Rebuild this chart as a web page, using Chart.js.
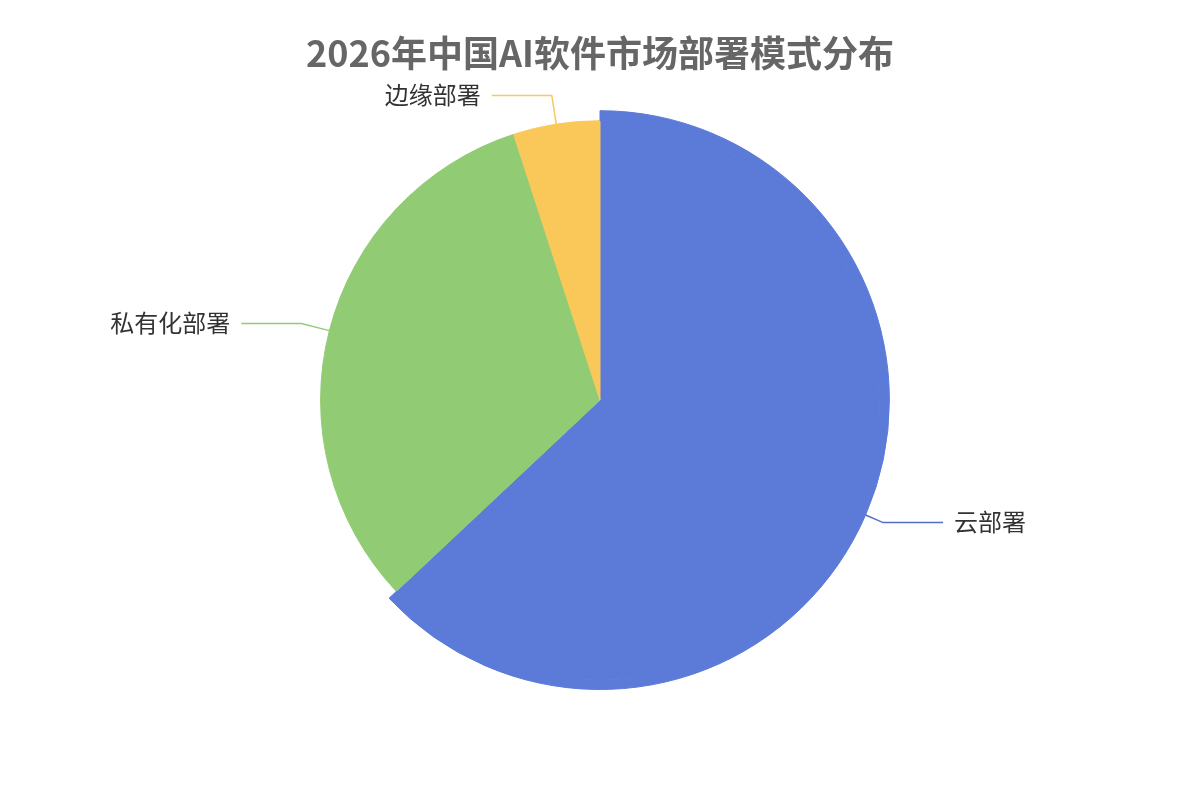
<!DOCTYPE html>
<html>
<head>
<meta charset="utf-8">
<script src="https://cdn.jsdelivr.net/npm/chart.js@4"></script>
<style>
  html, body { margin: 0; padding: 0; background: #fff; }
  #wrap { width: 1200px; height: 800px; }
</style>
</head>
<body>
<div id="wrap"><canvas id="mycanvas" width="1200" height="800"></canvas></div>
<script>
// data
var categories = ['云部署', '私有化部署', '边缘部署'];
var shares = [63, 32, 5];

var fillColors = ['#5c7bd9', '#91cc75', '#fac858'];
var lineColors = ['#5470c6', '#91cc75', '#fac858'];

Chart.defaults.font.family = '"Noto Sans CJK SC", "Noto Sans", sans-serif';

// outside labels with elbow lines
var pieLabels = {
	id: 'pieLabels',
	afterDatasetsDraw: function(chart) {
		var meta = chart.getDatasetMeta(1);
		var ctx = chart.ctx;
		ctx.save();
		for (var i = 0; i < meta.data.length; i++) {
			var arc = meta.data[i];
			var a = (arc.startAngle + arc.endAngle) / 2;
			var r0 = (i === 0) ? arc.outerRadius + 10 : arc.outerRadius;
			var r1 = arc.outerRadius + 29;
			var x0 = arc.x + r0 * Math.cos(a), y0 = arc.y + r0 * Math.sin(a);
			var x1 = arc.x + r1 * Math.cos(a), y1 = arc.y + r1 * Math.sin(a);
			var dir = Math.cos(a) >= 0 ? 1 : -1;
			var x2 = x1 + dir * 60;
			ctx.strokeStyle = lineColors[i];
			ctx.lineWidth = 1.5;
			ctx.beginPath();
			ctx.moveTo(x0, y0);
			ctx.lineTo(x1, y1);
			ctx.lineTo(x2, y1);
			ctx.stroke();
			ctx.fillStyle = '#333';
			ctx.font = '24px "Noto Sans CJK SC", sans-serif';
			ctx.textBaseline = 'middle';
			ctx.textAlign = dir > 0 ? 'left' : 'right';
			ctx.fillText(categories[i], x2 + dir * 11, y1 - 1);
		}
		ctx.restore();
	}
};

var ctx = document.getElementById('mycanvas');

var pieChart = new Chart(ctx, {
	type: 'pie',
	data: {
		labels: categories,
		datasets: [
			{
				// enlarged rim for the highlighted slice
				data: shares,
				backgroundColor: [fillColors[0], 'rgba(0,0,0,0)', 'rgba(0,0,0,0)'],
				borderColor: [fillColors[0], 'rgba(0,0,0,0)', 'rgba(0,0,0,0)'],
				borderWidth: 1,
				hoverBorderWidth: 1,
				hoverOffset: 0,
				weight: 10
			},
			{
				data: shares,
				backgroundColor: fillColors,
				borderColor: fillColors,
				borderWidth: 1,
				hoverBorderWidth: 1,
				hoverOffset: 0,
				weight: 280
			}
		]
	},
	options: {
		responsive: false,
		animation: false,
		events: [],
		layout: { padding: { top: 0, bottom: 110, left: 0, right: 0 } },
		plugins: {
			legend: { display: false },
			tooltip: { enabled: false },
			title: {
				display: true,
				text: '2026年中国AI软件市场部署模式分布',
				color: '#666',
				font: { size: 36, weight: 'bold' },
				padding: { top: 32, bottom: 35 }
			}
		}
	},
	plugins: [pieLabels]
});
</script>
</body>
</html>
